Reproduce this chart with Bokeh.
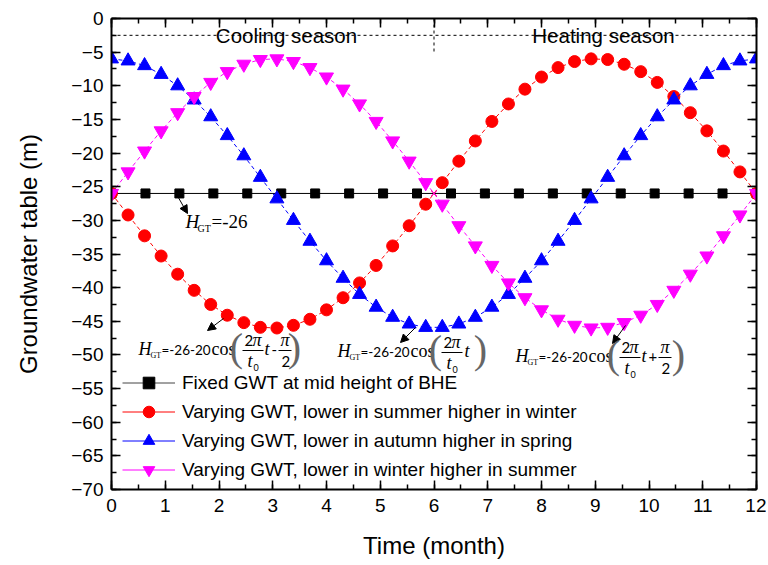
from bokeh.plotting import figure
from bokeh.models import (Range1d, LinearAxis, FixedTicker, Label, Arrow, NormalHead,
                          Span, Legend, LegendItem)
from bokeh.embed import file_html
from bokeh.resources import INLINE

# ---------------- data ----------------
t_fixed = [0.0, 0.632, 1.263, 1.895, 2.526, 3.158, 3.789, 4.421, 5.053, 5.684,
           6.316, 6.947, 7.579, 8.211, 8.842, 9.474, 10.105, 10.737, 11.368, 12.0]
gwt_fixed = [-26.0] * 20

t_var = [0.0, 0.308, 0.615, 0.923, 1.231, 1.538, 1.846, 2.154, 2.462, 2.769,
         3.077, 3.385, 3.692, 4.0, 4.308, 4.615, 4.923, 5.231, 5.538, 5.846,
         6.154, 6.462, 6.769, 7.077, 7.385, 7.692, 8.0, 8.308, 8.615, 8.923,
         9.231, 9.538, 9.846, 10.154, 10.462, 10.769, 11.077, 11.385, 11.692, 12.0]
gwt_summer_low = [-26.0, -29.2, -32.3, -35.3, -38.0, -40.4, -42.5, -44.1, -45.2, -45.9,
                  -46.0, -45.6, -44.7, -43.3, -41.5, -39.3, -36.7, -33.8, -30.8, -27.6,
                  -24.4, -21.2, -18.2, -15.3, -12.7, -10.5, -8.7, -7.3, -6.4, -6.0,
                  -6.1, -6.8, -7.9, -9.5, -11.6, -14.0, -16.7, -19.7, -22.8, -26.0]
gwt_autumn_low = [-6.0, -6.3, -7.0, -8.3, -10.0, -12.1, -14.6, -17.4, -20.4, -23.6,
                  -26.8, -30.0, -33.1, -36.0, -38.6, -41.0, -42.9, -44.4, -45.4, -45.9,
                  -45.9, -45.4, -44.4, -42.9, -41.0, -38.6, -36.0, -33.1, -30.0, -26.8,
                  -23.6, -20.4, -17.4, -14.6, -12.1, -10.0, -8.3, -7.0, -6.3, -6.0]
gwt_winter_low = [-26.0, -22.8, -19.7, -16.7, -14.0, -11.6, -9.5, -7.9, -6.8, -6.1,
                  -6.0, -6.4, -7.3, -8.7, -10.5, -12.7, -15.3, -18.2, -21.2, -24.4,
                  -27.6, -30.8, -33.8, -36.7, -39.3, -41.5, -43.3, -44.7, -45.6, -46.0,
                  -45.9, -45.2, -44.1, -42.5, -40.4, -38.0, -35.3, -32.3, -29.2, -26.0]
cross_t = [6.0]
cross_gwt = [-26.0]

season_line = -2.5
season_split = 6.0
season_split_bottom = -5.0

x_ticks = list(range(0, 13))
x_minor = [i * 0.5 for i in range(0, 25)]
y_ticks = list(range(-70, 1, 5))
y_minor = [-70 + i * 2.5 for i in range(0, 29)]

labels = ["Fixed GWT at mid height of BHE",
          "Varying GWT, lower in summer higher in winter",
          "Varying GWT, lower in autumn higher in spring",
          "Varying GWT, lower in winter higher in summer"]

# ---------------- figure ----------------
FL, FT, FW, FH = 111, 18, 645, 471
p = figure(frame_width=FW, frame_height=FH, x_range=Range1d(0, 12), y_range=Range1d(-70, 0),
           output_backend="svg", toolbar_location=None,
           min_border_left=FL, min_border_top=FT, min_border_right=10, min_border_bottom=66)
p.grid.visible = False
p.outline_line_color = None
p.background_fill_color = "white"

# page-pixel -> data helpers for annotation placement
def X(px):
    return (px - FL) * 12.0 / FW

def Y(py):
    return -(py - FT) * 70.0 / FH

FONT = "Liberation Sans"

def style_axis(ax, show_labels, ticks):
    ax.axis_line_width = 2
    ax.major_tick_in = 9
    ax.major_tick_out = 0
    ax.minor_tick_in = 5
    ax.minor_tick_out = 0
    ax.major_tick_line_width = 1.5
    ax.minor_tick_line_width = 1.5
    ax.major_label_text_font = FONT
    ax.major_label_text_color = "black"
    if show_labels:
        ax.major_label_text_font_size = "19px"
    else:
        ax.major_label_overrides = {t: "" for t in ticks}
        ax.major_label_text_font_size = "8px"
        ax.major_label_standoff = 0

p.xaxis.ticker = FixedTicker(ticks=x_ticks, minor_ticks=x_minor)
p.yaxis.ticker = FixedTicker(ticks=y_ticks, minor_ticks=y_minor)
style_axis(p.xaxis[0], True, x_ticks)
style_axis(p.yaxis[0], True, y_ticks)
p.xaxis.major_label_standoff = 9
p.yaxis.major_label_standoff = 8
p.xaxis.axis_label = "Time (month)"
p.yaxis.axis_label = "Groundwater table (m)"
for ax in (p.xaxis[0], p.yaxis[0]):
    ax.axis_label_text_font = FONT
    ax.axis_label_text_font_size = "24px"
    ax.axis_label_text_font_style = "normal"
    ax.axis_label_text_color = "black"
p.xaxis.axis_label_standoff = 17
p.yaxis.axis_label_standoff = 26

top_ax = LinearAxis(ticker=FixedTicker(ticks=x_ticks, minor_ticks=x_minor))
right_ax = LinearAxis(ticker=FixedTicker(ticks=y_ticks, minor_ticks=y_minor))
style_axis(top_ax, False, x_ticks)
style_axis(right_ax, False, y_ticks)
p.add_layout(top_ax, "above")
p.add_layout(right_ax, "right")

# ---------------- series ----------------
k_line = p.line(t_fixed, gwt_fixed, line_color="black", line_width=1)
k_pts = p.scatter(t_fixed, gwt_fixed, marker="square", size=9, color="black")

r_line = p.line(t_var, gwt_summer_low, line_color="red", line_width=1, line_dash="4 3")
r_pts = p.scatter(t_var, gwt_summer_low, marker="circle", size=12, color="red")

b_line = p.line(t_var, gwt_autumn_low, line_color="blue", line_width=1, line_dash="4 3")
b_pts = p.scatter(t_var, gwt_autumn_low, marker="triangle", size=14, color="blue")

m_line = p.line(t_var, gwt_winter_low, line_color="magenta", line_width=1, line_dash="4 3")
m_pts = p.scatter(t_var, gwt_winter_low, marker="inverted_triangle", size=14, color="magenta")

p.scatter(cross_t, cross_gwt, marker="x", size=8, line_color="red", line_width=1)
p.scatter(cross_t, cross_gwt, marker="x", size=8, line_color="magenta", line_width=1)

# season markers
p.add_layout(Span(location=season_line, dimension="width", line_color="black",
                  line_width=1, line_dash="3 3"))
p.segment(x0=[season_split], y0=[0], x1=[season_split], y1=[season_split_bottom],
          line_color="black", line_width=1, line_dash="3 3")

def lab(text, px, py, font="Liberation Serif", size=18, style="normal",
        align="left", baseline="alphabetic", color="black"):
    # empirical correction: rendered alphabetic baseline sits lower than requested
    if baseline == "alphabetic":
        py = py - 0.38 * size
    else:
        py = py - 3
    p.add_layout(Label(x=X(px), y=Y(py), text=text, text_font=font,
                       text_font_size=f"{size}px", text_font_style=style,
                       text_align=align, text_baseline=baseline, text_color=color))

lab("Cooling season", 286, 43, font=FONT, size=20.5, align="center")
lab("Heating season", 603, 43, font=FONT, size=20.5, align="center")

# ---------------- legend ----------------
nan = float("nan")
leg_k = p.line([nan], [nan], line_color="#444444", line_width=1)
leg_r = p.line([nan], [nan], line_color="red", line_width=1)
leg_b = p.line([nan], [nan], line_color="blue", line_width=1)
leg_m = p.line([nan], [nan], line_color="magenta", line_width=1)
legend = Legend(items=[LegendItem(label=labels[0], renderers=[leg_k, k_pts]),
                       LegendItem(label=labels[1], renderers=[leg_r, r_pts]),
                       LegendItem(label=labels[2], renderers=[leg_b, b_pts]),
                       LegendItem(label=labels[3], renderers=[leg_m, m_pts])],
                location=(11, 5), padding=0, margin=0, spacing=0,
                glyph_width=53, glyph_height=29, label_height=29, label_standoff=7,
                label_text_font=FONT, label_text_font_size="19px", label_text_color="black",
                background_fill_alpha=0, border_line_alpha=0)
p.add_layout(legend)

# ---------------- annotations ----------------
def arrow(x0, y0, x1, y1):
    p.add_layout(Arrow(end=NormalHead(size=8, fill_color="black", line_color="black"),
                       x_start=X(x0), y_start=Y(y0), x_end=X(x1), y_end=Y(y1),
                       line_color="black", line_width=1))

def bar(x0, x1, py):
    p.add_layout(Arrow(start=None, end=None, x_start=X(x0), y_start=Y(py),
                       x_end=X(x1), y_end=Y(py), line_color="black", line_width=1))

SANS2 = "Lato"
PAREN = "#666666"

def head(x0, B):
    lab("H", x0, B, style="italic")
    lab("GT", x0 + 12, B + 3, size=8)
    lab("=-26-20", x0 + 23, B, font=SANS2, size=13.5)
    lab("cos", x0 + 73, B)
    lab("(", x0 + 98, B - 5, size=40, align="center", baseline="middle", color=PAREN)
    lab("2", x0 + 106, B - 9, font=SANS2, size=15)
    lab("π", x0 + 114, B - 9, style="italic")
    bar(x0 + 104, x0 + 125, B - 5)
    lab("t", x0 + 109, B + 12, style="italic")
    lab("0", x0 + 115, B + 15, font=SANS2, size=9)

# H_GT = -26
arrow(175, 192, 187, 213)
lab("H", 185, 228, size=19, style="italic")
lab("GT", 197, 232, size=10)
lab("=-26", 211, 228, size=19)

# red
arrow(223, 318, 207, 330)
x0, B = 138, 355
head(x0, B)
lab("t", x0 + 126, B, style="italic")
lab("-", x0 + 133, B, font=SANS2, size=15)
lab("π", x0 + 142, B - 9, style="italic")
bar(x0 + 140, x0 + 153, B - 5)
lab("2", x0 + 143, B + 12, font=SANS2, size=15)
lab(")", x0 + 156, B - 5, size=40, align="center", baseline="middle", color=PAREN)

# blue
arrow(415, 327, 400, 342)
x0, B = 337, 357
head(x0, B)
lab("t", x0 + 127, B, style="italic")
lab(")", x0 + 143, B - 5, size=40, align="center", baseline="middle", color=PAREN)

# magenta
arrow(625, 325, 612, 343)
x0, B = 515, 362
head(x0, B)
lab("t", x0 + 126, B, style="italic")
lab("+", x0 + 133, B, font=SANS2, size=15)
lab("π", x0 + 145, B - 9, style="italic")
bar(x0 + 143, x0 + 156, B - 5)
lab("2", x0 + 146, B + 12, font=SANS2, size=15)
lab(")", x0 + 163, B - 5, size=40, align="center", baseline="middle", color=PAREN)

open("out.html", "w").write(file_html(p, INLINE))
